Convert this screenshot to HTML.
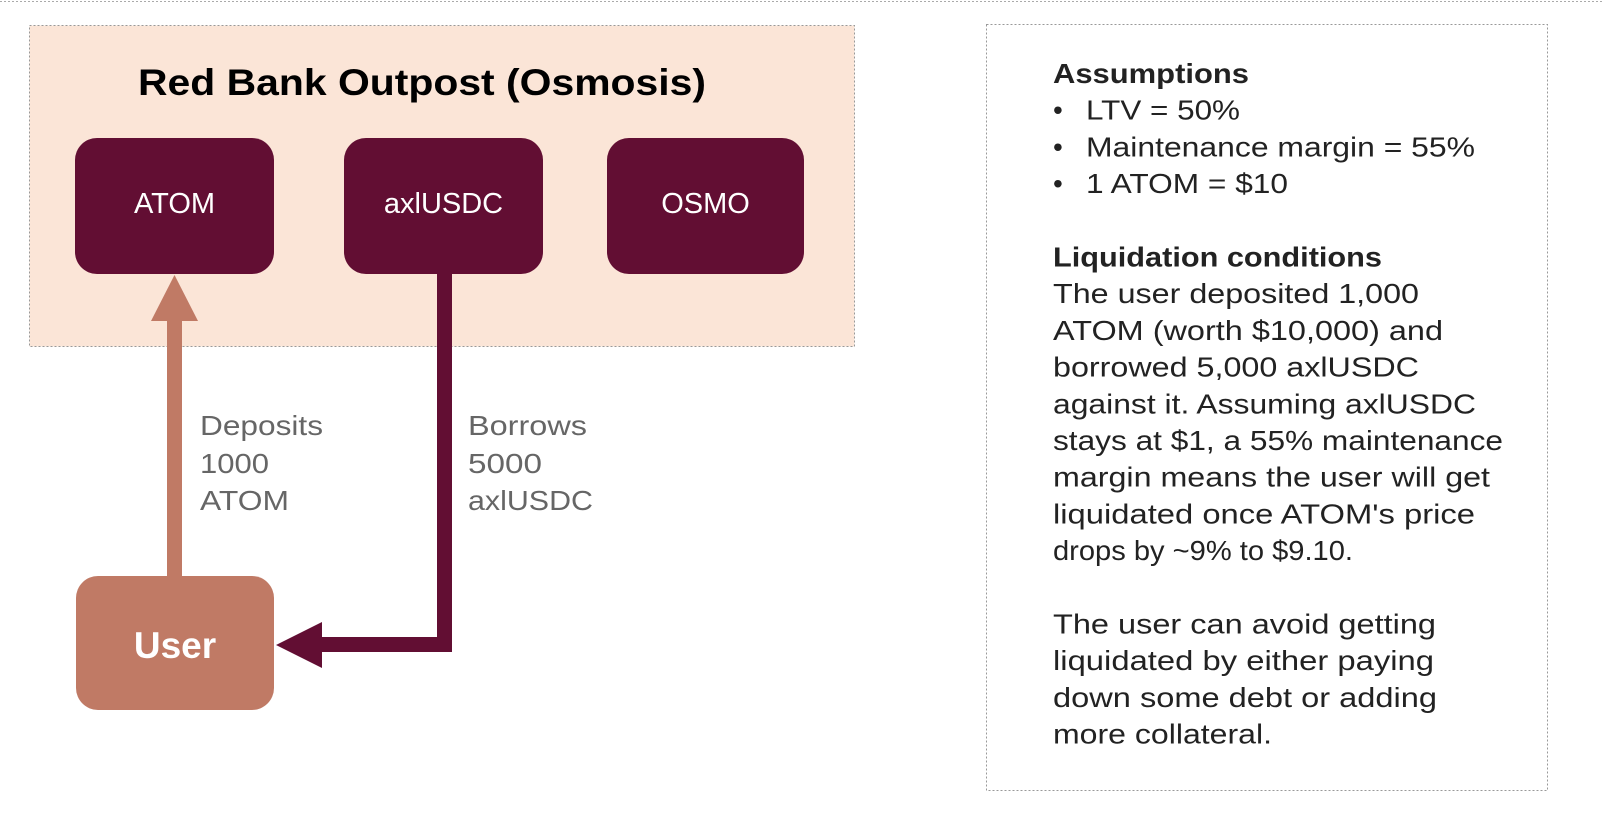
<!DOCTYPE html>
<html><head><meta charset="utf-8"><style>
html,body{margin:0;padding:0;background:#fff;}
svg{display:block;}
text{font-family:"Liberation Sans",sans-serif;}
</style></head><body>
<svg width="1602" height="830" viewBox="0 0 1602 830" xmlns="http://www.w3.org/2000/svg">
<line x1="0" y1="1.5" x2="1602" y2="1.5" stroke="#aaa" stroke-width="1" stroke-dasharray="2,2"/>
<rect x="29.5" y="25.5" width="825" height="321" fill="#fbe5d7" stroke="#999" stroke-width="1" stroke-dasharray="2,2"/>
<text x="138" y="95" font-size="37" font-weight="bold" fill="#000" textLength="568" lengthAdjust="spacingAndGlyphs">Red Bank Outpost (Osmosis)</text>
<rect x="75" y="138" width="199" height="136" rx="22" fill="#620e33"/>
<rect x="344" y="138" width="199" height="136" rx="22" fill="#620e33"/>
<rect x="607" y="138" width="197" height="136" rx="22" fill="#620e33"/>
<text x="174.5" y="213" font-size="29" fill="#fff" text-anchor="middle">ATOM</text>
<text x="443.5" y="213" font-size="29" fill="#fff" text-anchor="middle">axlUSDC</text>
<text x="705.5" y="213" font-size="29" fill="#fff" text-anchor="middle">OSMO</text>
<rect x="76" y="576" width="198" height="134" rx="22" fill="#c07a65"/>
<text x="175" y="658" font-size="37" font-weight="bold" fill="#fff" text-anchor="middle">User</text>
<rect x="167" y="318" width="15" height="260" fill="#c07a65"/>
<polygon points="174.5,275 151,321 198,321" fill="#c07a65"/>
<polyline points="444.5,274 444.5,644.5 318,644.5" fill="none" stroke="#620e33" stroke-width="15"/>
<polygon points="276,645 322,622 322,668" fill="#620e33"/>
<g font-size="28" fill="#666">
<text x="200" y="435" textLength="123" lengthAdjust="spacingAndGlyphs">Deposits</text>
<text x="200" y="473" textLength="69" lengthAdjust="spacingAndGlyphs">1000</text>
<text x="200" y="510" textLength="89" lengthAdjust="spacingAndGlyphs">ATOM</text>
<text x="468" y="435" textLength="119" lengthAdjust="spacingAndGlyphs">Borrows</text>
<text x="468" y="473" textLength="74" lengthAdjust="spacingAndGlyphs">5000</text>
<text x="468" y="510" textLength="125" lengthAdjust="spacingAndGlyphs">axlUSDC</text>
</g>
<rect x="986.5" y="24.5" width="561" height="766" fill="none" stroke="#999" stroke-width="1" stroke-dasharray="2,2"/>
<g font-size="28" fill="#222">
<text x="1053" y="83" font-weight="bold" textLength="196" lengthAdjust="spacingAndGlyphs">Assumptions</text>
<text x="1053" y="119.7">•</text><text x="1086" y="119.7" textLength="154" lengthAdjust="spacingAndGlyphs">LTV = 50%</text>
<text x="1053" y="156.4">•</text><text x="1086" y="156.4" textLength="389" lengthAdjust="spacingAndGlyphs">Maintenance margin = 55%</text>
<text x="1053" y="193.1">•</text><text x="1086" y="193.1" textLength="202" lengthAdjust="spacingAndGlyphs">1 ATOM = $10</text>
<text x="1053" y="266.5" font-weight="bold" textLength="329" lengthAdjust="spacingAndGlyphs">Liquidation conditions</text>
<text x="1053" y="303.2" textLength="366" lengthAdjust="spacingAndGlyphs">The user deposited 1,000</text>
<text x="1053" y="339.9" textLength="390" lengthAdjust="spacingAndGlyphs">ATOM (worth $10,000) and</text>
<text x="1053" y="376.6" textLength="366" lengthAdjust="spacingAndGlyphs">borrowed 5,000 axlUSDC</text>
<text x="1053" y="413.3" textLength="423" lengthAdjust="spacingAndGlyphs">against it. Assuming axlUSDC</text>
<text x="1053" y="450" textLength="450" lengthAdjust="spacingAndGlyphs">stays at $1, a 55% maintenance</text>
<text x="1053" y="486.7" textLength="437" lengthAdjust="spacingAndGlyphs">margin means the user will get</text>
<text x="1053" y="523.4" textLength="422" lengthAdjust="spacingAndGlyphs">liquidated once ATOM's price</text>
<text x="1053" y="560.1" textLength="300" lengthAdjust="spacingAndGlyphs">drops by ~9% to $9.10.</text>
<text x="1053" y="633.5" textLength="383" lengthAdjust="spacingAndGlyphs">The user can avoid getting</text>
<text x="1053" y="670.2" textLength="381" lengthAdjust="spacingAndGlyphs">liquidated by either paying</text>
<text x="1053" y="706.9" textLength="384" lengthAdjust="spacingAndGlyphs">down some debt or adding</text>
<text x="1053" y="743.6" textLength="219" lengthAdjust="spacingAndGlyphs">more collateral.</text>
</g>
</svg>
</body></html>
